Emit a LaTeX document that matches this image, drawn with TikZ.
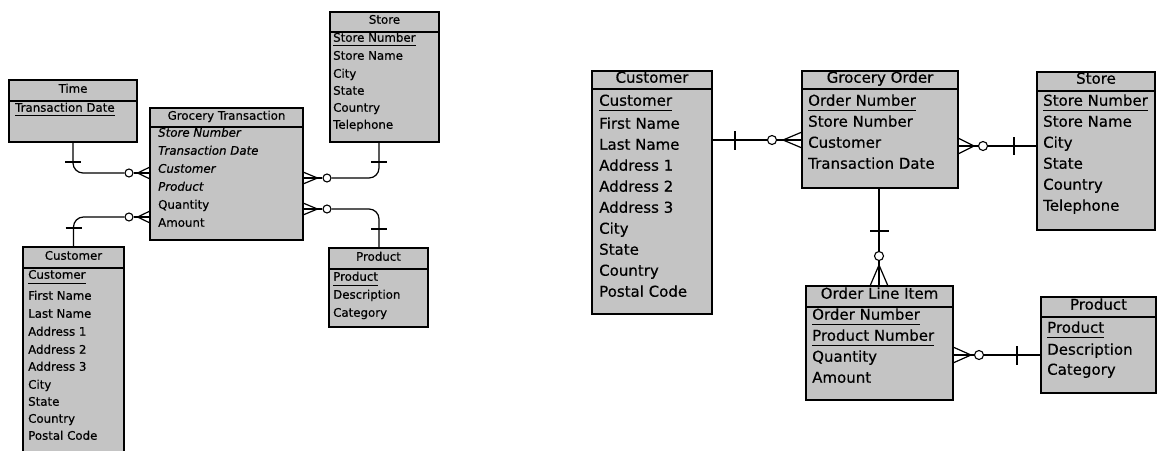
\documentclass[tikz,border=0pt]{standalone}
\usepackage{fontspec}
\setmainfont{DejaVu Sans}
\newfontfamily\erfont[FakeBold=0.45]{DejaVu Sans}
\usetikzlibrary{calc}
\definecolor{boxfill}{gray}{0.77}
% underline under a key attribute: node name, drop below baseline
\newcommand\keyline[2]{\draw[keyrule] ([yshift=-#2]#1.base west) -- ([yshift=-#2]#1.base east);}
\begin{document}
\begin{tikzpicture}[x=1pt,y=-1pt,
  ebox/.style={draw, fill=boxfill, line width=1.3pt, inner sep=0pt, outer sep=0pt},
  sepline/.style={line width=1.3pt},
  keyrule/.style={line width=1.2pt},
  rel/.style={line width=1.2pt},
  optc/.style={circle, draw, fill=white, line width=1.1pt, inner sep=0pt, minimum size=8pt},
  optcL/.style={optc, minimum size=9pt},
  ttlS/.style={inner sep=0pt, anchor=mid, font=\erfont\fontsize{11.8}{13}\selectfont},
  attS/.style={inner sep=0pt, anchor=mid west, font=\erfont\fontsize{11.8}{13}\selectfont},
  attSi/.style={attS, font=\erfont\fontsize{11.8}{13}\selectfont\itshape},
  ttlL/.style={inner sep=0pt, anchor=mid, font=\erfont\fontsize{15}{17}\selectfont},
  attL/.style={inner sep=0pt, anchor=mid west, font=\erfont\fontsize{15}{17}\selectfont}]
\useasboundingbox (0,0) rectangle (1158,450);
\clip (0,0) rectangle (1158,450);

% ---------------- dimensional model ----------------
% Time
\node[ebox, minimum width=128pt, minimum height=62pt] (time) at (73,111) {};
\draw[sepline] (time.west |- 0,101) -- (time.east |- 0,101);
\node[ttlS] (timeT) at (73,90) {Time};
\node[attS] (timeA) at (15,109) {Transaction Date};
\keyline{timeA}{4pt}

% Grocery Transaction
\node[ebox, minimum width=153pt, minimum height=132pt] (gt) at (226.5,174) {};
\draw[sepline] (gt.west |- 0,127) -- (gt.east |- 0,127);
\node[ttlS] (gtT) at (226.5,117) {Grocery Transaction};
\node[attSi] (gtA1) at (158,134) {Store Number};
\node[attSi] (gtA2) at (158,152) {Transaction Date};
\node[attSi] (gtA3) at (158,170) {Customer};
\node[attSi] (gtA4) at (158,188) {Product};
\node[attS]  (gtA5) at (158,206) {Quantity};
\node[attS]  (gtA6) at (158,224) {Amount};

% Store
\node[ebox, minimum width=109pt, minimum height=130pt] (storeL) at (384.5,77) {};
\draw[sepline] (storeL.west |- 0,32) -- (storeL.east |- 0,32);
\node[ttlS] (storeLT) at (384.5,21) {Store};
\node[attS] (storeL1) at (333,39) {Store Number};
\keyline{storeL1}{4pt}
\node[attS] (storeL2) at (333,57) {Store Name};
\node[attS] (storeL3) at (333,75) {City};
\node[attS] (storeL4) at (333,92) {State};
\node[attS] (storeL5) at (333,109) {Country};
\node[attS] (storeL6) at (333,126) {Telephone};

% Customer
\node[ebox, minimum width=101pt, minimum height=215pt] (custL) at (73.5,354.5) {};
\draw[sepline] (custL.west |- 0,268) -- (custL.east |- 0,268);
\node[ttlS] (custLT) at (73.5,257) {Customer};
\node[attS] (custL1) at (28,276) {Customer};
\keyline{custL1}{4.5pt}
\node[attS] (custL2) at (28,297) {First Name};
\node[attS] (custL3) at (28,315) {Last Name};
\node[attS] (custL4) at (28,333) {Address 1};
\node[attS] (custL5) at (28,351) {Address 2};
\node[attS] (custL6) at (28,368) {Address 3};
\node[attS] (custL7) at (28,386) {City};
\node[attS] (custL8) at (28,403) {State};
\node[attS] (custL9) at (28,420) {Country};
\node[attS] (custL10) at (28,437) {Postal Code};

% Product
\node[ebox, minimum width=99pt, minimum height=79pt] (prodL) at (378.5,287.5) {};
\draw[sepline] (prodL.west |- 0,269) -- (prodL.east |- 0,269);
\node[ttlS] (prodLT) at (378.5,258) {Product};
\node[attS] (prodL1) at (333,278) {Product};
\keyline{prodL1}{4.5pt}
\node[attS] (prodL2) at (333,296) {Description};
\node[attS] (prodL3) at (333,314) {Category};

% Time -- Grocery Transaction
\node[optc] (c1) at (129,173) {};
\draw[rel, rounded corners=10pt] (time.south) |- (c1.west);
\draw[rel] ($(time.south)+(-8,20)$) -- ++(16,0);
\draw[rel] (c1.east) -- ++(4,0) coordinate (k1);
\draw[rel] (k1) -- (gt.west |- 0,167);
\draw[rel] (k1) -- (gt.west |- k1);
\draw[rel] (k1) -- (gt.west |- 0,179);

% Customer -- Grocery Transaction
\node[optc] (c2) at (129,217) {};
\draw[rel, rounded corners=10pt] (custL.north) |- (c2.west);
\draw[rel] ($(custL.north)+(-8,-19)$) -- ++(16,0);
\draw[rel] (c2.east) -- ++(4,0) coordinate (k2);
\draw[rel] (k2) -- (gt.west |- 0,211);
\draw[rel] (k2) -- (gt.west |- k2);
\draw[rel] (k2) -- (gt.west |- 0,223);

% Store -- Grocery Transaction
\node[optc] (c3) at (327,178) {};
\draw[rel, rounded corners=10pt] (storeL.south -| 379,0) |- (c3.east);
\draw[rel] (371,162) -- (387,162);
\draw[rel] (c3.west) -- ++(-5,0) coordinate (k3);
\draw[rel] (k3) -- (gt.east |- 0,172);
\draw[rel] (k3) -- (gt.east |- k3);
\draw[rel] (k3) -- (gt.east |- 0,184);

% Product -- Grocery Transaction
\node[optc] (c4) at (327,209) {};
\draw[rel, rounded corners=10pt] (c4.east) -| (prodL.north -| 379,0);
\draw[rel] (371,229) -- (387,229);
\draw[rel] (c4.west) -- ++(-5,0) coordinate (k4);
\draw[rel] (k4) -- (gt.east |- 0,203);
\draw[rel] (k4) -- (gt.east |- k4);
\draw[rel] (k4) -- (gt.east |- 0,215);

% ---------------- normalised model ----------------
% Customer
\node[ebox, minimum width=120pt, minimum height=243pt] (custR) at (652,192.5) {};
\draw[sepline] (custR.west |- 0,89) -- (custR.east |- 0,89);
\node[ttlL] (custRT) at (652,80) {Customer};
\node[attL] (custR1) at (599,103) {Customer};
\keyline{custR1}{5pt}
\node[attL] (custR2) at (599,126) {First Name};
\node[attL] (custR3) at (599,147) {Last Name};
\node[attL] (custR4) at (599,168) {Address 1};
\node[attL] (custR5) at (599,189) {Address 2};
\node[attL] (custR6) at (599,210) {Address 3};
\node[attL] (custR7) at (599,231) {City};
\node[attL] (custR8) at (599,252) {State};
\node[attL] (custR9) at (599,273) {Country};
\node[attL] (custR10) at (599,294) {Postal Code};

% Grocery Order
\node[ebox, minimum width=156pt, minimum height=117pt] (go) at (880,129.5) {};
\draw[sepline] (go.west |- 0,89) -- (go.east |- 0,89);
\node[ttlL] (goT) at (880,80) {Grocery Order};
\node[attL] (go1) at (808,103) {Order Number};
\keyline{go1}{5pt}
\node[attL] (go2) at (808,124) {Store Number};
\node[attL] (go3) at (808,145) {Customer};
\node[attL] (go4) at (808,166) {Transaction Date};

% Store
\node[ebox, minimum width=118pt, minimum height=158pt] (storeR) at (1096,151) {};
\draw[sepline] (storeR.west |- 0,91) -- (storeR.east |- 0,91);
\node[ttlL] (storeRT) at (1096,81) {Store};
\node[attL] (storeR1) at (1043,103) {Store Number};
\keyline{storeR1}{5pt}
\node[attL] (storeR2) at (1043,124) {Store Name};
\node[attL] (storeR3) at (1043,145) {City};
\node[attL] (storeR4) at (1043,166) {State};
\node[attL] (storeR5) at (1043,187) {Country};
\node[attL] (storeR6) at (1043,208) {Telephone};

% Order Line Item
\node[ebox, minimum width=147pt, minimum height=114pt] (oli) at (879.5,343) {};
\draw[sepline] (oli.west |- 0,307) -- (oli.east |- 0,307);
\node[ttlL] (oliT) at (879.5,296) {Order Line Item};
\node[attL] (oli1) at (812,317) {Order Number};
\keyline{oli1}{5pt}
\node[attL] (oli2) at (812,338) {Product Number};
\keyline{oli2}{5pt}
\node[attL] (oli3) at (812,359) {Quantity};
\node[attL] (oli4) at (812,380) {Amount};

% Product
\node[ebox, minimum width=115pt, minimum height=96pt] (prodR) at (1098.5,345) {};
\draw[sepline] (prodR.west |- 0,317) -- (prodR.east |- 0,317);
\node[ttlL] (prodRT) at (1098.5,307) {Product};
\node[attL] (prodR1) at (1047,330) {Product};
\keyline{prodR1}{5pt}
\node[attL] (prodR2) at (1047,352) {Description};
\node[attL] (prodR3) at (1047,372) {Category};

% Customer -- Grocery Order
\node[optcL] (c5) at (772,140) {};
\draw[rel] (custR.east |- c5) -- (c5.west);
\draw[rel] (735,131) -- (735,150);
\draw[rel] (c5.east) -- ++(6,0) coordinate (k5);
\draw[rel] (k5) -- (go.west |- 0,132);
\draw[rel] (k5) -- (go.west |- k5);
\draw[rel] (k5) -- (go.west |- 0,148);

% Grocery Order -- Store
\node[optcL] (c6) at (983,146) {};
\draw[rel] (c6.east) -- (storeR.west |- c6);
\draw[rel] (1014,137) -- (1014,155);
\draw[rel] (c6.west) -- ++(-4,0) coordinate (k6);
\draw[rel] (k6) -- (go.east |- 0,138);
\draw[rel] (k6) -- (go.east |- k6);
\draw[rel] (k6) -- (go.east |- 0,154);

% Grocery Order -- Order Line Item
\node[optcL] (c7) at (879,256) {};
\draw[rel] (go.south -| c7) -- (c7.north);
\draw[rel] (870,231) -- (889,231);
\draw[rel] (c7.south) -- ++(0,4) coordinate (k7);
\draw[rel] (k7) -- (oli.north -| 870,0);
\draw[rel] (k7) -- (oli.north -| k7);
\draw[rel] (k7) -- (oli.north -| 888,0);

% Order Line Item -- Product
\node[optcL] (c8) at (979,355) {};
\draw[rel] (c8.east) -- (prodR.west |- c8);
\draw[rel] (1017,346) -- (1017,365);
\draw[rel] (c8.west) -- ++(-3,0) coordinate (k8);
\draw[rel] (k8) -- (oli.east |- 0,347);
\draw[rel] (k8) -- (oli.east |- k8);
\draw[rel] (k8) -- (oli.east |- 0,363);
\end{tikzpicture}
\end{document}
